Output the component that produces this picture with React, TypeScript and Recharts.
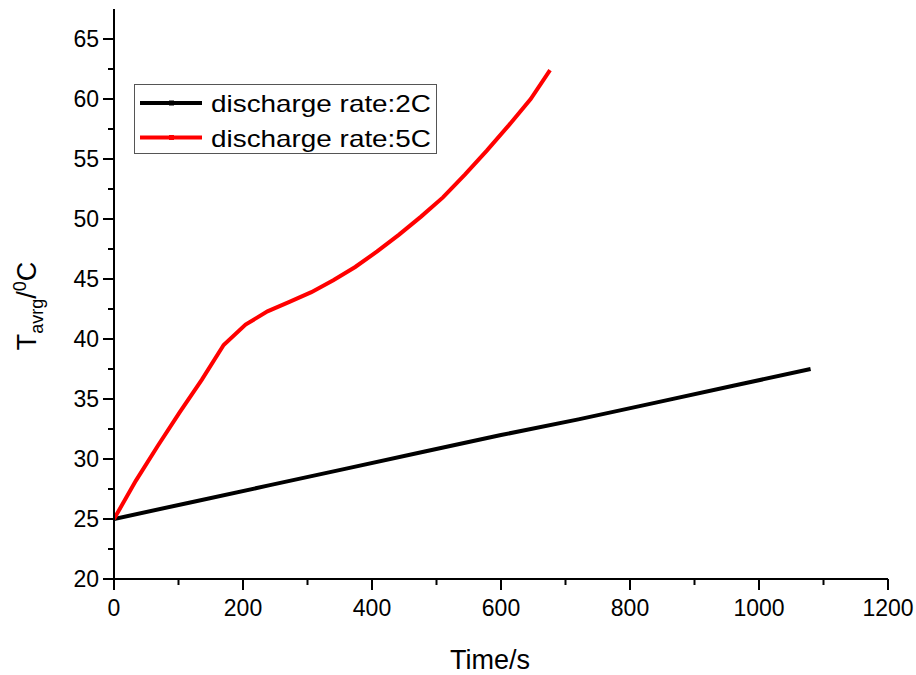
import React from 'react';
import { LineChart, Line, XAxis, YAxis, Legend, Label } from 'recharts';

const time2C = [0, 120, 240, 360, 480, 600, 720, 840, 960, 1080];
const temp2C = [25, 26.4, 27.8, 29.2, 30.6, 32.0, 33.3, 34.7, 36.1, 37.5];

const time5C = [0, 34, 68, 102, 136, 170, 204, 238, 272, 306, 340, 374, 408, 442, 476, 510, 544, 578, 612, 646, 676];
const temp5C = [25, 28.2, 31.1, 33.9, 36.6, 39.5, 41.2, 42.3, 43.1, 43.9, 44.9, 46.0, 47.3, 48.7, 50.2, 51.8, 53.7, 55.7, 57.8, 60.0, 62.4];

const xTicks = [0, 100, 200, 300, 400, 500, 600, 700, 800, 900, 1000, 1100, 1200];
const yTicks = [20, 22.5, 25, 27.5, 30, 32.5, 35, 37.5, 40, 42.5, 45, 47.5, 50, 52.5, 55, 57.5, 60, 62.5, 65];

const seriesNames = ['discharge rate:2C', 'discharge rate:5C'];
const seriesColors = ['#000000', '#ff0000'];

const data2C = time2C.map((t, i) => ({ t, v: temp2C[i] }));
const data5C = time5C.map((t, i) => ({ t, v: temp5C[i] }));

const FONT = 'Arial, "Liberation Sans", sans-serif';

const XTick = (props: any) => {
  const { x, y, payload } = props;
  const major = payload.value % 200 === 0;
  return (
    <g>
      <line x1={x} y1={y} x2={x} y2={y + (major ? 11 : 6)} stroke="#000" strokeWidth={2} />
      {major && (
        <text x={x} y={y + 37} textAnchor="middle" fontSize={23} fontFamily={FONT} fill="#000">
          {payload.value}
        </text>
      )}
    </g>
  );
};

const YTick = (props: any) => {
  const { x, y, payload } = props;
  const major = payload.value % 5 === 0;
  return (
    <g>
      <line x1={x} y1={y} x2={x - (major ? 11 : 6)} y2={y} stroke="#000" strokeWidth={2} />
      {major && (
        <text x={x - 15} y={y + 8} textAnchor="end" fontSize={23} fontFamily={FONT} fill="#000">
          {payload.value}
        </text>
      )}
    </g>
  );
};

const YTitle = () => (
  <text
    transform="translate(36,306) rotate(-90)"
    textAnchor="middle"
    fontSize={27}
    fontFamily={FONT}
    fill="#000"
  >
    T
    <tspan fontSize={18} dy={7}>avrg</tspan>
    <tspan dy={-7}>/</tspan>
    <tspan fontSize={18} dy={-10}>0</tspan>
    <tspan dy={10}>C</tspan>
  </text>
);

const LegendBox = () => (
  <svg width={304} height={71} style={{ display: 'block' }}>
    <rect x={0.5} y={0.5} width={302} height={69} fill="#fff" stroke="#555" strokeWidth={1} />
    {seriesNames.map((name, i) => {
      const cy = 19 + i * 34.5;
      return (
        <g key={name}>
          <line x1={6} y1={cy} x2={68} y2={cy} stroke={seriesColors[i]} strokeWidth={4} />
          <rect x={35} y={cy - 2.5} width={5} height={5} fill={seriesColors[i]} />
          <text
            x={77}
            y={cy + 9}
            fontSize={24}
            fontFamily={FONT}
            fill="#000"
            textLength={220}
            lengthAdjust="spacingAndGlyphs"
          >
            {name}
          </text>
        </g>
      );
    })}
  </svg>
);

export default function App() {
  return (
    <div style={{ position: 'absolute', left: 0, top: 0, background: '#fff' }}>
      <LineChart width={916} height={675} margin={{ top: 9, right: 28, bottom: 0, left: 0 }}>
        <XAxis
          dataKey="t"
          type="number"
          domain={[0, 1200]}
          ticks={xTicks}
          interval={0}
          allowDataOverflow
          height={96}
          tickSize={0}
          tickMargin={0}
          tickLine={false}
          tick={<XTick />}
          axisLine={{ stroke: '#000', strokeWidth: 2 }}
        >
          <Label
            value="Time/s"
            position="insideBottom"
            offset={6}
            dx={-11}
            style={{ fontSize: 27, fontFamily: FONT, fill: '#000' }}
          />
        </XAxis>
        <XAxis
          xAxisId="top"
          orientation="top"
          type="number"
          domain={[0, 1200]}
          height={0}
          tick={false}
          tickLine={false}
          axisLine={{ stroke: '#000', strokeWidth: 2.5 }}
        />
        <YAxis
          type="number"
          domain={[20, 67.5]}
          ticks={yTicks}
          interval={0}
          allowDataOverflow
          width={114}
          tickSize={0}
          tickMargin={0}
          tickLine={false}
          tick={<YTick />}
          axisLine={{ stroke: '#000', strokeWidth: 2 }}
          label={<YTitle />}
        />
        <YAxis
          yAxisId="right"
          orientation="right"
          type="number"
          domain={[20, 67.5]}
          width={0}
          tick={false}
          tickLine={false}
          axisLine={{ stroke: '#000', strokeWidth: 2.5 }}
        />
        <Legend
          layout="horizontal"
          verticalAlign="middle"
          align="center"
          wrapperStyle={{ position: 'absolute', left: 134, top: 84, width: 304, height: 71 }}
          content={() => <LegendBox />}
        />
        <Line
          data={data2C}
          dataKey="v"
          name={seriesNames[0]}
          stroke={seriesColors[0]}
          strokeWidth={4}
          dot={false}
          type="linear"
          isAnimationActive={false}
        />
        <Line
          data={data5C}
          dataKey="v"
          name={seriesNames[1]}
          stroke={seriesColors[1]}
          strokeWidth={4}
          dot={false}
          type="linear"
          isAnimationActive={false}
        />
      </LineChart>
    </div>
  );
}
